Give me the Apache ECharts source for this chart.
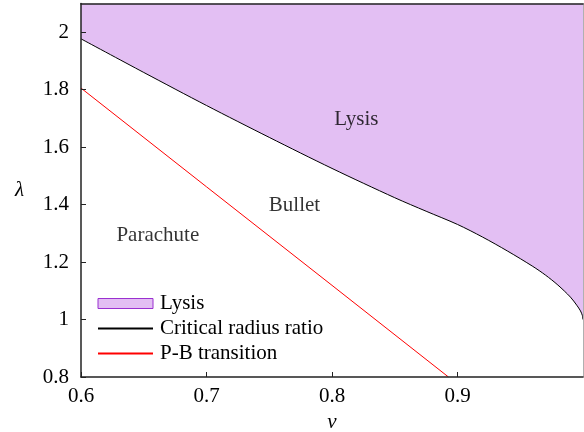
<!DOCTYPE html>
<html>
<head>
<meta charset="utf-8">
<script src="https://cdn.jsdelivr.net/npm/echarts@6/dist/echarts.min.js"></script>
<style>html,body{margin:0;padding:0;background:#fff}#c{width:584px;height:432px}</style>
</head>
<body>
<div id="c"></div>
<script>
// Critical radius ratio curve (nu, lambda)
const criticalNu = [0.60, 0.65, 0.70, 0.75, 0.80, 0.85, 0.875, 0.90, 0.92, 0.94, 0.96, 0.97, 0.98, 0.99, 0.995, 0.998, 0.9995, 1.0];
const criticalLambda = [1.977, 1.860, 1.745, 1.634, 1.526, 1.424, 1.377, 1.331, 1.287, 1.238, 1.185, 1.155, 1.120, 1.078, 1.050, 1.030, 1.014, 1.0];
// P-B transition line
const pbNu = [0.60, 0.70, 0.80, 0.8928];
const pbLambda = [1.8056, 1.462, 1.119, 0.80];
// region annotations
const regionNames = ['Lysis', 'Bullet', 'Parachute'];
const regionNu = [0.8194, 0.7701, 0.6612];
const regionLambda = [1.6955, 1.397, 1.2927];
const xTicks = { min: 0.6, max: 1.0, interval: 0.1 };
const yTicks = { min: 0.8, max: 2.1, interval: 0.2 };

const FONT = "'Liberation Serif', 'Times New Roman', serif";
const FS = 21;
const zip = (a, b) => a.map((v, i) => [v, b[i]]);
const chart = echarts.init(document.getElementById('c'), null, { renderer: 'canvas' });
const axisCommon = {
  z: 10,
  axisLine: { show: true, onZero: false, lineStyle: { color: '#222', width: 1.5 } },
  axisTick: { show: true, inside: true, length: 5, lineStyle: { color: '#222' } },
  splitLine: { show: false },
  axisLabel: { color: '#000', fontFamily: FONT, fontSize: FS, showMaxLabel: false }
};
chart.setOption({
  animation: false,
  textStyle: { fontFamily: FONT },
  grid: { left: 81, right: 1, top: 3.5, bottom: 55, containLabel: false, outerBoundsMode: 'none' },
  xAxis: [
    Object.assign({}, axisCommon, {
      type: 'value', min: xTicks.min, max: xTicks.max, interval: xTicks.interval,
      name: 'ν', nameLocation: 'middle', nameGap: 33,
      nameTextStyle: { fontFamily: FONT, fontSize: FS, fontStyle: 'italic', color: '#000' },
      axisLabel: Object.assign({}, axisCommon.axisLabel, { margin: 9 })
    }),
    { type: 'value', position: 'top', min: xTicks.min, max: xTicks.max, z: 10,
      axisLine: { show: true, onZero: false, lineStyle: { color: '#222', width: 1.5 } },
      axisTick: { show: false }, axisLabel: { show: false }, splitLine: { show: false } }
  ],
  yAxis: [
    Object.assign({}, axisCommon, {
      type: 'value', min: yTicks.min, max: yTicks.max, interval: yTicks.interval,
      name: 'λ', nameLocation: 'middle', nameGap: 57, nameRotate: 0,
      nameTextStyle: { fontFamily: FONT, fontSize: FS, fontStyle: 'italic', color: '#000' },
      axisLabel: Object.assign({}, axisCommon.axisLabel, { margin: 12 })
    }),
    { type: 'value', position: 'right', min: yTicks.min, max: yTicks.max, z: 10,
      axisLine: { show: true, onZero: false, lineStyle: { color: '#b0b0b0', width: 1 } },
      axisTick: { show: false }, axisLabel: { show: false }, splitLine: { show: false } }
  ],
  legend: {
    left: 92, top: 288, orient: 'vertical',
    itemWidth: 55, itemHeight: 10, itemGap: 4,
    textStyle: { fontFamily: FONT, fontSize: FS, color: '#000', lineHeight: 21, padding: [0, 0, 0, 2] },
    data: [
      { name: 'Lysis', icon: 'rect', itemStyle: { color: '#e3bff3', borderColor: '#9a30d0', borderWidth: 1 } },
      { name: 'Critical radius ratio', itemStyle: { opacity: 0 } },
      { name: 'P-B transition', itemStyle: { opacity: 0 } }
    ]
  },
  series: [
    {
      name: 'Lysis', type: 'line', data: zip(criticalNu, criticalLambda),
      symbol: 'none', color: '#e3bff3', smooth: 0.3,
      lineStyle: { width: 0, opacity: 0 },
      areaStyle: { origin: 'end', color: '#e3bff3', opacity: 1 }, z: 1
    },
    {
      name: 'Critical radius ratio', type: 'line', data: zip(criticalNu, criticalLambda),
      symbol: 'none', color: '#000', smooth: 0.3, lineStyle: { color: '#000', width: 1 }, z: 3
    },
    {
      name: 'P-B transition', type: 'line', data: zip(pbNu, pbLambda),
      symbol: 'none', color: '#ff0000', lineStyle: { color: '#ff0000', width: 1 }, z: 3
    },
    {
      name: 'regions', type: 'scatter', symbolSize: 0, silent: true,
      data: regionNames.map((n, i) => ({ value: [regionNu[i], regionLambda[i]], name: n })),
      label: { show: true, position: 'inside', formatter: p => p.name,
        fontFamily: FONT, fontSize: FS, color: '#000' }, z: 4
    }
  ]
});
</script>
</body>
</html>
